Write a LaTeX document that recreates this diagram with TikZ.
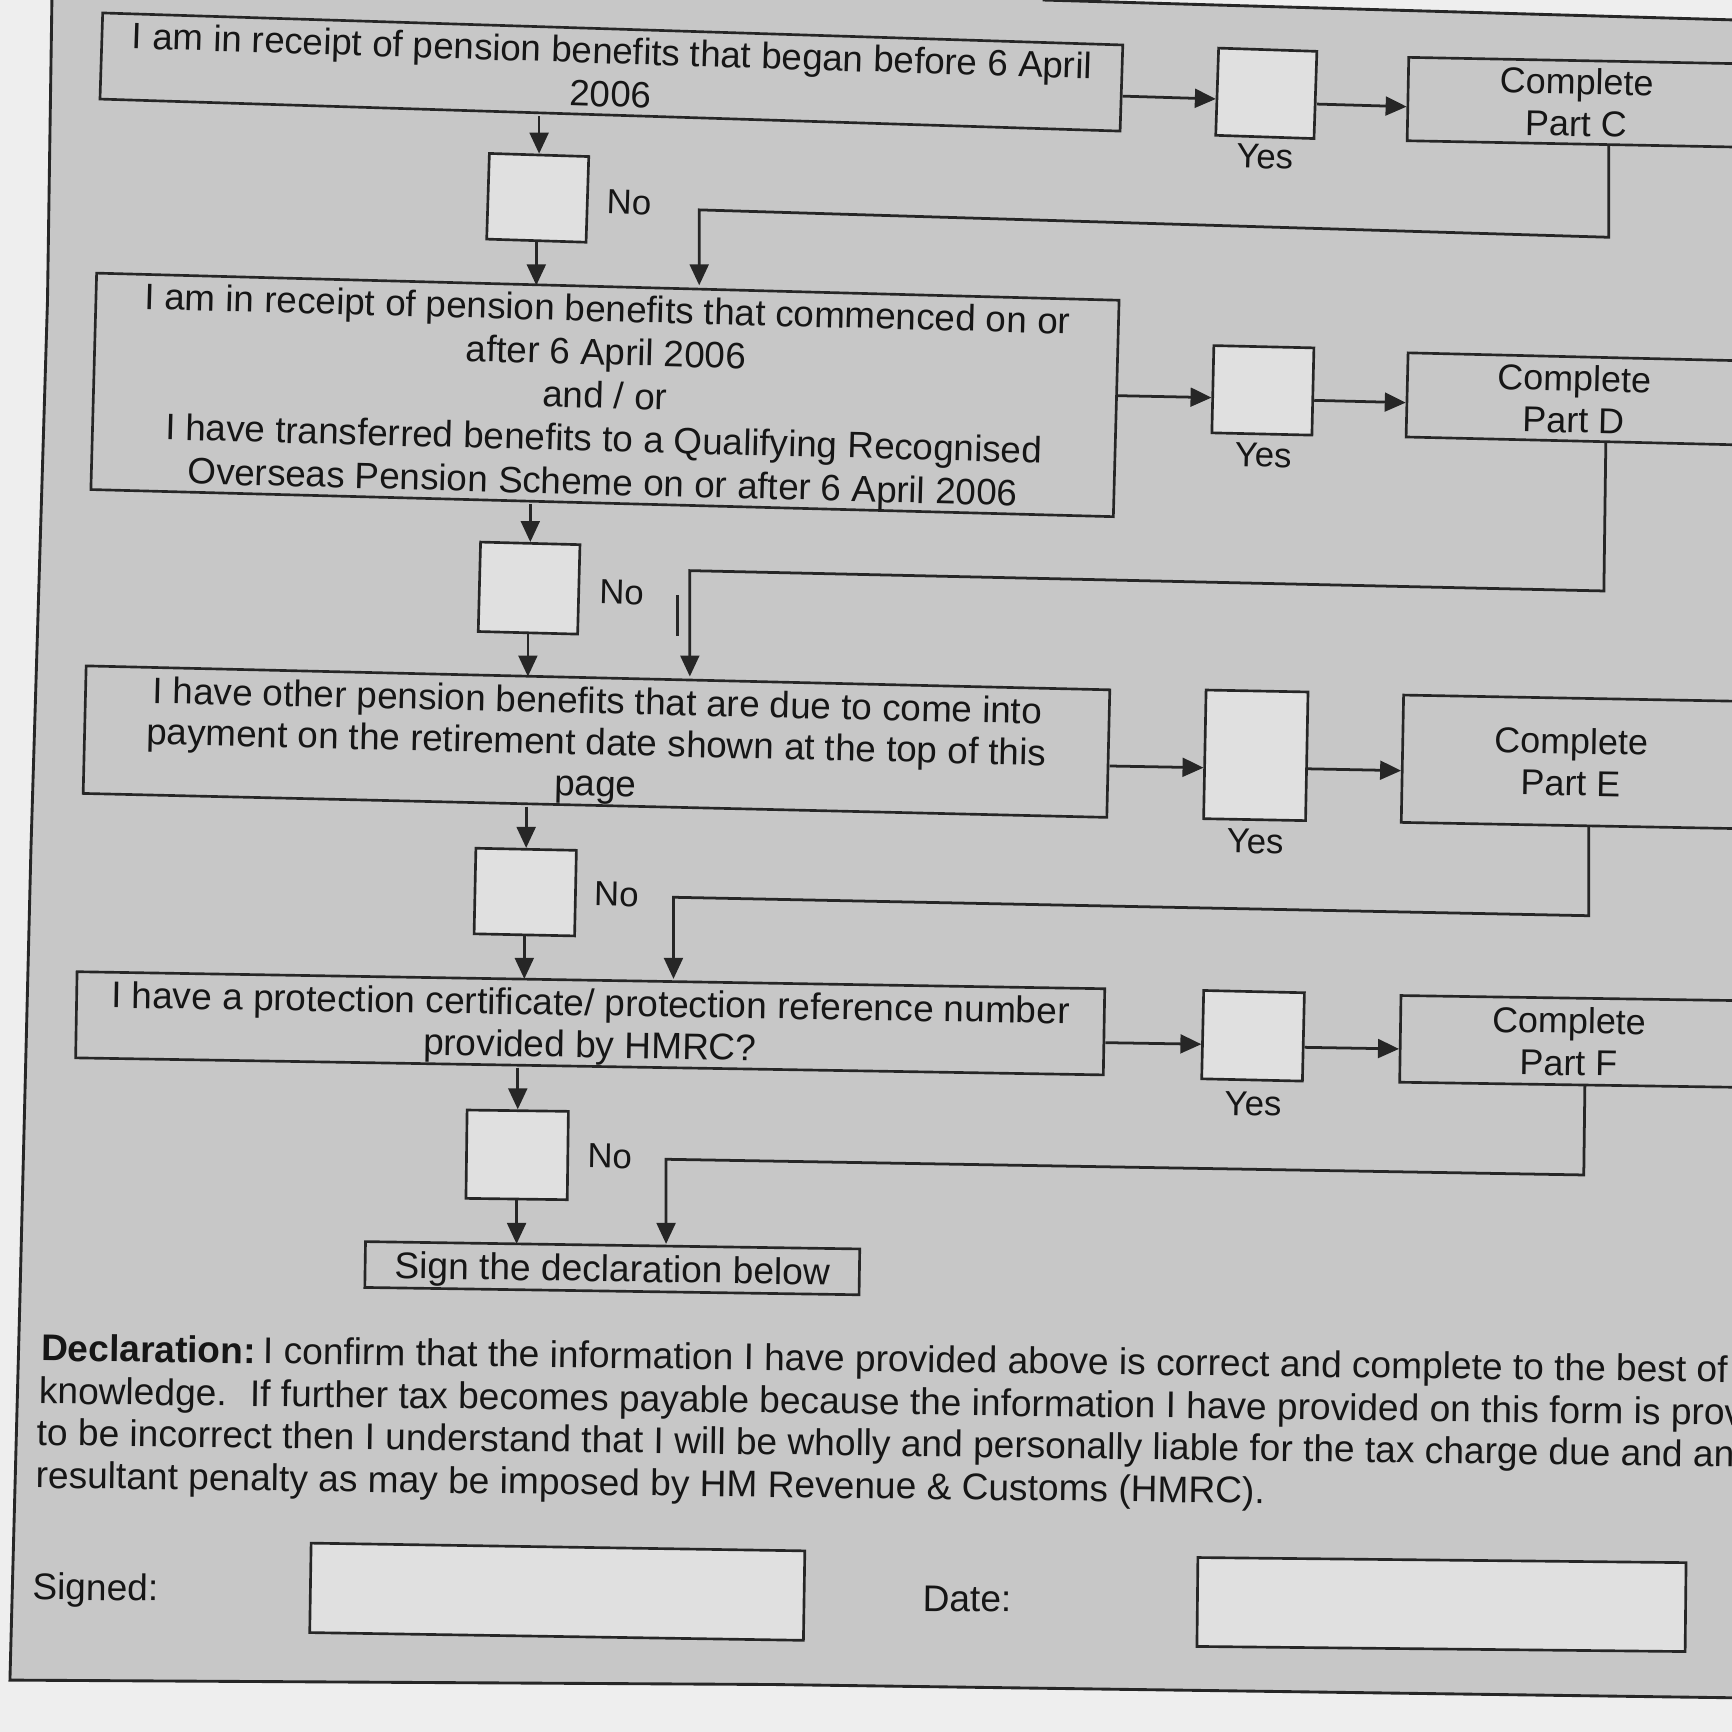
\documentclass[tikz,border=0pt]{standalone}
\usepackage{fontspec}
\setmainfont{Liberation Sans}
\usetikzlibrary{arrows.meta}
\definecolor{pagebg}{RGB}{199,199,199}
\definecolor{outbg}{RGB}{238,238,238}
\definecolor{chkfill}{RGB}{224,224,224}
\definecolor{linec}{RGB}{38,38,38}
\definecolor{txtc}{RGB}{22,22,22}
\newcommand\myfs[2]{\fontsize{#1pt}{#2pt}\selectfont}
\begin{document}
\begin{tikzpicture}[x=1pt,y=-1pt,
  box/.style={draw=linec, line width=2.4pt, inner sep=0pt, align=center, text=txtc, text depth=0pt},
  chk/.style={draw=linec, fill=chkfill, line width=2.4pt, inner sep=0pt},
  lbl/.style={inner sep=0pt, text=txtc, font=\myfs{31.5}{38}},
  dtxt/.style={inner sep=0pt, text=txtc, anchor=base west, font=\myfs{33.6}{38.5}},
  arr/.style={draw=linec, line width=2.5pt, -{Triangle[length=19pt,width=17pt]}},
  frame/.style={draw=linec, line width=2.6pt}]
\useasboundingbox (0,0) rectangle (1568,1568);
\clip (0,0) rectangle (1568,1568);
% page
\fill[outbg] (0,0) rectangle (1568,1568);
\fill[pagebg] (47,0) -- (944,0) -- (1568,18) -- (1568,1537) -- (700,1525) -- (9,1521) -- (18,1177) -- (28,769) -- (43,272) -- cycle;
\draw[frame] (47,0) -- (43,272) -- (28,769) -- (18,1177) -- (9,1521) -- (700,1525) -- (1568,1537);
\draw[frame] (944,0) -- (1568,18);

% row 1
\node[box, rotate=-1.8, minimum width=924pt, minimum height=78pt, font=\myfs{33.2}{39}] (b1) at (553.5,65.2) {I am in receipt of pension benefits that began before 6 April\\2006};
\node[chk, rotate=-1.8, minimum width=90pt, minimum height=77.6pt] (n1) at (486.8,179.1) {};
\node[lbl, rotate=-1.8] (no1) at (569.5,183) {No};
\node[chk, rotate=-1.9, minimum width=89pt, minimum height=79pt] (y1) at (1146.4,84.5) {};
\node[lbl, rotate=-1.8] (yes1) at (1145,141.8) {Yes};
\node[box, rotate=-1.1, minimum width=305pt, minimum height=75.5pt, font=\myfs{32.5}{38}] (pC) at (1427.1,92.6) {Complete\\Part C};

% row 2
\node[box, rotate=-1.52, minimum width=926pt, minimum height=196pt, font=\myfs{33.3}{39.2}] (b2) at (547.7,357.5) {I am in receipt of pension benefits that commenced on or\\after 6 April 2006\\and / or\\I have transferred benefits to a Qualifying Recognised\\Overseas Pension Scheme on or after 6 April 2006};
\node[chk, rotate=-1.5, minimum width=90pt, minimum height=81pt] (n2) at (479,532.4) {};
\node[lbl, rotate=-1.5] (no2) at (562.7,536.3) {No};
\node[chk, rotate=-1.3, minimum width=90.6pt, minimum height=79pt] (y2) at (1143.3,353.4) {};
\node[lbl, rotate=-1.4] (yes2) at (1143.6,412) {Yes};
\node[box, rotate=-1.36, minimum width=302pt, minimum height=76.2pt, font=\myfs{32.5}{38}] (pD) at (1424.8,361.1) {Complete\\Part D};

% row 3
\node[box, rotate=-1.34, minimum width=927pt, minimum height=115.5pt, font=\myfs{33.3}{37.5}] (b3) at (540,671.4) {I have other pension benefits that are due to come into\\payment on the retirement date shown at the top of this\\page};
\node[chk, rotate=-1.2, minimum width=91pt, minimum height=77.5pt] (n3) at (475.5,807.6) {};
\node[lbl, rotate=-1.2] (no3) at (558,809.5) {No};
\node[chk, rotate=-1.1, minimum width=92.3pt, minimum height=116.5pt] (y3) at (1136.9,683.8) {};
\node[lbl, rotate=-1.1] (yes3) at (1136.3,761.8) {Yes};
\node[box, rotate=-1.06, minimum width=305pt, minimum height=115.3pt, font=\myfs{32.5}{38}] (pE) at (1422.1,689.7) {Complete\\Part E};

% row 4
\node[box, rotate=-0.95, minimum width=930.5pt, minimum height=78pt, font=\myfs{33.5}{38}] (b4) at (534.3,926.4) {I have a protection certificate/ protection reference number\\provided by HMRC?};
\node[chk, rotate=-0.75, minimum width=91.7pt, minimum height=80pt] (n4) at (468.2,1045.5) {};
\node[lbl, rotate=-0.9] (no4) at (552,1047) {No};
\node[chk, rotate=-1.3, minimum width=91.2pt, minimum height=80pt] (y4) at (1134.4,937.7) {};
\node[lbl, rotate=-1] (yes4) at (1134.4,999.4) {Yes};
\node[box, rotate=-0.86, minimum width=305pt, minimum height=78.5pt, font=\myfs{32.5}{38}] (pF) at (1420.2,942.8) {Complete\\Part F};

% sign
\node[box, rotate=-0.85, minimum width=447.5pt, minimum height=41.5pt, font=\myfs{33.6}{40}] (sg) at (554.3,1148.1) {Sign the declaration below};

% declaration
\node[dtxt, rotate=-0.73] (d1) at (37,1232) {\textbf{Declaration:}\hspace{0.2em}I confirm that the information I have provided above is correct and complete to the best of my};
\node[dtxt, rotate=-0.73] (d2) at (35,1270.7) {knowledge.\hspace{21pt}If further tax becomes payable because the information I have provided on this form is proved};
\node[dtxt, rotate=-0.73] (d3) at (33,1308.5) {to be incorrect then I understand that I will be wholly and personally liable for the tax charge due and any};
\node[dtxt, rotate=-0.73] (d4) at (32,1347) {resultant penalty as may be imposed by HM Revenue \& Customs (HMRC).};

\node[dtxt, rotate=-0.7] (sl) at (29,1448) {Signed:};
\node[chk, rotate=-0.9, minimum width=447pt, minimum height=81pt] (sb) at (504.5,1441) {};
\node[dtxt, rotate=-0.6] (dl) at (835,1458.5) {Date:};
\node[chk, rotate=-0.6, minimum width=442pt, minimum height=80.5pt] (db) at (1305,1452.6) {};

% corner points of return lines
\coordinate (rc1) at (1456.5,214.8);
\coordinate (lc1) at (633,190);
\coordinate (rc2) at (1452,535);
\coordinate (lc2) at (624.5,516.6);
\coordinate (rc3) at (1438.3,829);
\coordinate (lc3) at (609.7,812.3);
\coordinate (rc4) at (1433.8,1063.7);
\coordinate (lc4) at (603,1049.5);

% connectors row 1
\draw[arr] ([yshift=-7.3pt]b1.east) -- ([yshift=-6.6pt]y1.west);
\draw[arr] ([yshift=-8.2pt]y1.east) -- ([yshift=-6.9pt]pC.west);
\draw[arr] (n1.north |- b1.south) -- (n1.north);
\draw[arr] (n1.south) -- (n1.south |- b2.north);
\draw[arr] ([xshift=30.1pt]pC.south) -- (rc1) -- (lc1) -- (lc1 |- b2.north);
% row 2
\draw[arr] ([yshift=11.6pt]b2.east) -- ([yshift=-7.6pt]y2.west);
\draw[arr] ([yshift=-8pt]y2.east) -- ([yshift=-7pt]pD.west);
\draw[arr] (n2.north |- b2.south) -- (n2.north);
\draw[arr] (n2.south) -- (n2.south |- b3.north);
\draw[arr] ([xshift=29.9pt]pD.south) -- (rc2) -- (lc2) -- (lc2 |- b3.north);
\draw[draw=linec, line width=2pt] (613.4,538.7) -- (613.4,575.8);
% row 3
\draw[arr] ([yshift=-11.2pt]b3.east) -- ([yshift=-12.1pt]y3.west);
\draw[arr] ([yshift=-11.3pt]y3.east) -- ([yshift=-10.8pt]pE.west);
\draw[arr] (n3.north |- b3.south) -- (n3.north);
\draw[arr] (n3.south) -- (n3.south |- b4.north);
\draw[arr] ([xshift=17.3pt]pE.south) -- (rc3) -- (lc3) -- (lc3 |- b4.north);
% row 4
\draw[arr] ([yshift=-9.8pt]b4.east) -- ([yshift=-8.7pt]y4.west);
\draw[arr] ([yshift=-9.4pt]y4.east) -- ([yshift=-9.1pt]pF.west);
\draw[arr] (n4.north |- b4.south) -- (n4.north);
\draw[arr] (n4.south) -- (n4.south |- sg.north);
\draw[arr] ([xshift=15.2pt]pF.south) -- (rc4) -- (lc4) -- (lc4 |- sg.north);
\end{tikzpicture}
\end{document}
